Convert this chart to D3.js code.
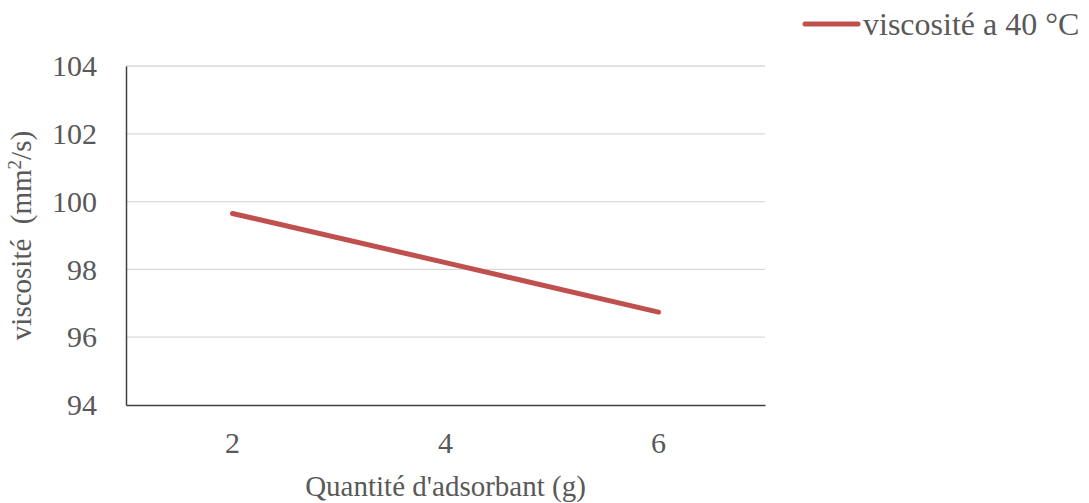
<!DOCTYPE html>
<html>
<head>
<meta charset="utf-8">
<script src="https://cdn.jsdelivr.net/npm/d3@7"></script>
<style>
  body { margin: 0; background: #fff; }
  svg text { font-family: "Liberation Serif", "Times New Roman", serif; fill: #595959; }
</style>
</head>
<body>
<svg id="chart" width="1089" height="503"></svg>
<script>
const categories = ['2', '4', '6'];
const viscosite = [99.65, 98.2, 96.74];
const yTicks = [94, 96, 98, 100, 102, 104];
const seriesName = 'viscosité a 40 °C';

const svg = d3.select('#chart');
const plotLeft = 126, plotRight = 765, plotTop = 66, plotBottom = 405;

const x = d3.scaleBand().domain(categories).range([plotLeft, plotRight]);
const y = d3.scaleLinear().domain([94, 104]).range([plotBottom, plotTop]);

// gridlines
svg.append('g')
  .selectAll('line')
  .data(yTicks.slice(1))
  .enter()
  .append('line')
  .attr('x1', plotLeft).attr('x2', plotRight)
  .attr('y1', d => y(d)).attr('y2', d => y(d))
  .attr('stroke', '#d9d9d9').attr('stroke-width', 1.3);

// y axis
const yAxis = svg.append('g')
  .attr('transform', `translate(${plotLeft},0)`)
  .call(d3.axisLeft(y).tickValues(yTicks).tickSize(0).tickPadding(29));
yAxis.select('.domain').attr('stroke', '#404040').attr('stroke-width', 1.5);
yAxis.selectAll('text').style('font-size', '30px').attr('fill', '#595959');

// x axis
const xAxis = svg.append('g')
  .attr('transform', `translate(0,${plotBottom})`)
  .call(d3.axisBottom(x).tickSize(0).tickPadding(27));
xAxis.select('.domain').attr('stroke', '#404040').attr('stroke-width', 1.5);
xAxis.selectAll('text').style('font-size', '30px').attr('fill', '#595959');

// line
const line = d3.line()
  .x((d, i) => x(categories[i]) + x.bandwidth() / 2)
  .y(d => y(d));

svg.append('path')
  .datum(viscosite)
  .attr('d', line)
  .attr('fill', 'none')
  .attr('stroke', '#c0504d')
  .attr('stroke-width', 5)
  .attr('stroke-linecap', 'round')
  .attr('stroke-linejoin', 'round');

// axis titles
svg.append('text')
  .attr('x', (plotLeft + plotRight) / 2).attr('y', 496)
  .attr('text-anchor', 'middle')
  .style('font-size', '29px')
  .text("Quantité d'adsorbant (g)");

const yt = svg.append('text')
  .attr('transform', `translate(31,${(plotTop + plotBottom) / 2}) rotate(-90)`)
  .attr('text-anchor', 'middle')
  .style('font-size', '29px');
yt.append('tspan').text('viscosité\u00a0 (mm');
yt.append('tspan').attr('dy', -10).style('font-size', '19px').text('2');
yt.append('tspan').attr('dy', 10).text('/s)');

// legend
const lg = svg.append('g').attr('transform', 'translate(805,24)');
lg.append('line')
  .attr('x1', 0).attr('x2', 53)
  .attr('stroke', '#c0504d').attr('stroke-width', 5).attr('stroke-linecap', 'round');
lg.append('text')
  .attr('x', 58).attr('y', 11)
  .style('font-size', '32px')
  .text(seriesName);
</script>
</body>
</html>
